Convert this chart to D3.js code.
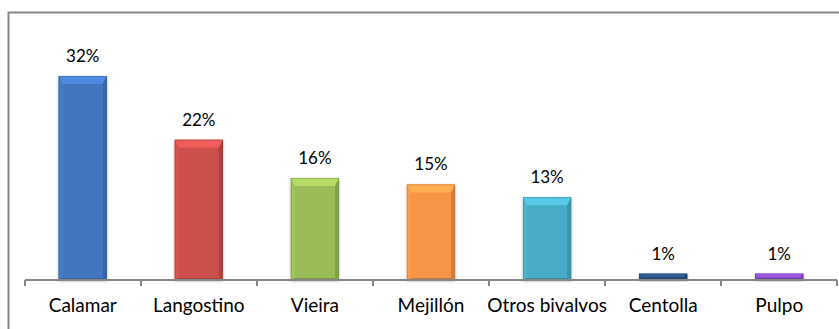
<!DOCTYPE html>
<html>
<head>
<meta charset="utf-8">
<script src="https://cdn.jsdelivr.net/npm/d3@7/dist/d3.min.js"></script>
<style>
  html, body { margin: 0; padding: 0; background: #fff; }
  svg { display: block; }
  text { font-family: Lato, "Open Sans", sans-serif; fill: #000; }
</style>
</head>
<body>
<svg id="chart" width="839" height="329"></svg>
<script>
// Share of each species (%)
const categories = ["Calamar", "Langostino", "Vieira", "Mejillón", "Otros bivalvos", "Centolla", "Pulpo"];
const values = [32, 22, 16, 15, 13, 1, 1];
const colors = ["#4277C0", "#CB4F4C", "#9ABC58", "#F79445", "#4AACC6", "#2B5183", "#8A4ECB"];
const valueLabels = values.map(v => v + "%");

const svg = d3.select("#chart");
const W = 839, H = 329;

// Chart frame
svg.append("rect")
  .attr("x", 8.5).attr("y", 12.5)
  .attr("width", W + 20).attr("height", H + 20)
  .attr("fill", "#fff")
  .attr("stroke", "#868686").attr("stroke-width", 2);

const x = d3.scaleBand()
  .domain(categories)
  .range([25, 837])
  .paddingInner(0.585)
  .paddingOuter(0.29);

const baseY = 280;
const y = d3.scaleLinear()
  .domain([0, 35])
  .range([baseY, baseY - 35 * 6.375]);

// Soft drop shadow under each bar
const defs = svg.append("defs");
const f = defs.append("filter").attr("id", "shadow")
  .attr("x", "-30%").attr("y", "-30%").attr("width", "160%").attr("height", "160%");
f.append("feGaussianBlur").attr("in", "SourceAlpha").attr("stdDeviation", 1.6).attr("result", "b");
f.append("feOffset").attr("in", "b").attr("dx", 0).attr("dy", 1).attr("result", "o");
f.append("feComponentTransfer").attr("in", "o").attr("result", "s")
  .append("feFuncA").attr("type", "linear").attr("slope", 0.35);
const m = f.append("feMerge");
m.append("feMergeNode").attr("in", "s");
m.append("feMergeNode").attr("in", "SourceGraphic");

const bars = svg.append("g").selectAll("g.bar")
  .data(categories.map((c, i) => ({ c, v: values[i], col: colors[i], lab: valueLabels[i] })))
  .join("g").attr("class", "bar");

bars.each(function (d) {
  const g = d3.select(this);
  const x0 = x(d.c), x1 = x0 + x.bandwidth();
  const y0 = y(d.v), y1 = y(0);
  const h = y1 - y0;
  const bt = Math.min(8, h / 2), bs = Math.min(4, h / 2), bb = Math.min(2, h / 3);
  const base = d3.color(d.col);

  g.append("rect")
    .attr("x", x0).attr("y", y0)
    .attr("width", x1 - x0).attr("height", h)
    .attr("fill", base.formatHex())
    .attr("filter", "url(#shadow)");

  // bevel: top highlight
  g.append("polygon")
    .attr("points", [[x0, y0], [x1, y0], [x1 - bs, y0 + bt], [x0 + bs, y0 + bt]].join(" "))
    .attr("fill", base.brighter(0.45).formatHex());
  // left edge
  g.append("polygon")
    .attr("points", [[x0, y0], [x0 + bs, y0 + bt], [x0 + bs, y1 - bb], [x0, y1]].join(" "))
    .attr("fill", base.brighter(0.12).formatHex());
  // right edge
  g.append("polygon")
    .attr("points", [[x1, y0], [x1, y1], [x1 - bs, y1 - bb], [x1 - bs, y0 + bt]].join(" "))
    .attr("fill", base.darker(0.45).formatHex());
  // bottom edge
  g.append("polygon")
    .attr("points", [[x0, y1], [x1, y1], [x1 - bs, y1 - bb], [x0 + bs, y1 - bb]].join(" "))
    .attr("fill", base.darker(0.6).formatHex());
  // outline
  g.append("rect")
    .attr("x", x0 + 0.5).attr("y", y0 + 0.5)
    .attr("width", x1 - x0 - 1).attr("height", h - 1)
    .attr("fill", "none")
    .attr("stroke", base.darker(0.7).formatHex()).attr("stroke-opacity", 0.5);

  g.append("text")
    .attr("x", (x0 + x1) / 2).attr("y", y0 - 14)
    .attr("text-anchor", "middle")
    .attr("font-size", 17)
    .text(d.lab);
});

// Category axis
const axis = d3.axisBottom(x).tickSize(0).tickPadding(19);
const ax = svg.append("g").attr("transform", `translate(0,${baseY})`).call(axis);
ax.select(".domain").attr("stroke", "#868686").attr("stroke-width", 2)
  .attr("d", `M25,0H837`);
ax.selectAll(".tick text").attr("font-size", 19).attr("font-family", "Lato, 'Open Sans', sans-serif").attr("fill", "#000");

// tick marks at category boundaries
const bounds = d3.range(categories.length + 1).map(i => 25 + i * (812 / categories.length));
ax.selectAll("line.sep").data(bounds).join("line").attr("class", "sep")
  .attr("x1", d => d).attr("x2", d => d)
  .attr("y1", 0).attr("y2", 6)
  .attr("stroke", "#868686").attr("stroke-width", 2);
</script>
</body>
</html>
